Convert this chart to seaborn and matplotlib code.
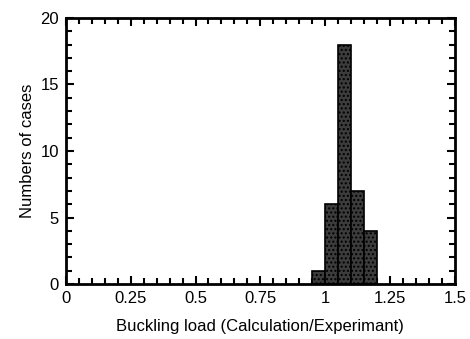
import matplotlib
matplotlib.use("Agg")
import matplotlib.pyplot as plt
import seaborn as sns
import numpy as np
from matplotlib.ticker import MultipleLocator, FixedLocator, FixedFormatter

bin_edges = [0.95, 1.00, 1.05, 1.10, 1.15, 1.20]
counts = [1, 6, 18, 7, 4]
x_ticks = [0, 0.25, 0.5, 0.75, 1, 1.25, 1.5]
x_labels = ["0", "0.25", "0.5", "0.75", "1", "1.25", "1.5"]
y_ticks = [0, 5, 10, 15, 20]

sns.set_style("ticks")
plt.rcParams['font.family'] = ['Liberation Sans', 'DejaVu Sans']
plt.rcParams['hatch.linewidth'] = 1.0

fig = plt.figure(figsize=(4.7, 3.39), dpi=100)
ax = fig.add_axes([0.140, 0.162, 0.828, 0.785])

centers = [(bin_edges[i] + bin_edges[i + 1]) / 2 for i in range(len(counts))]
sns.histplot(x=centers, weights=counts, bins=bin_edges, ax=ax,
             color="#3c3c3c", edgecolor="black", linewidth=1.2, alpha=1,
             hatch="....")

ax.set_xlim(0, 1.5)
ax.set_ylim(0, 20)
ax.xaxis.set_major_locator(FixedLocator(x_ticks))
ax.xaxis.set_major_formatter(FixedFormatter(x_labels))
ax.xaxis.set_minor_locator(MultipleLocator(0.05))
ax.yaxis.set_major_locator(FixedLocator(y_ticks))
ax.yaxis.set_minor_locator(MultipleLocator(1))

ax.tick_params(which="both", direction="in", top=True, right=True, width=1.5,
               labelsize=12, colors="black", labelcolor="black")
ax.tick_params(axis="x", which="major", length=6, pad=5)
ax.tick_params(axis="y", which="major", length=6, pad=5)
ax.tick_params(which="minor", length=4)
for s in ax.spines.values():
    s.set_linewidth(2)
    s.set_color("black")

ax.set_xlabel("Buckling load (Calculation/Experimant)", fontsize=12, color="black", labelpad=9)
ax.set_ylabel("Numbers of cases", fontsize=12, color="black", labelpad=4)

fig.savefig("out.png", dpi=100)
